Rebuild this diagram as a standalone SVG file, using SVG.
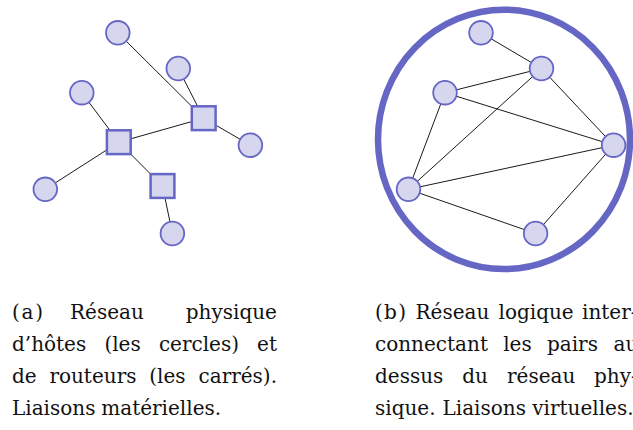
<svg xmlns="http://www.w3.org/2000/svg" width="633" height="430" viewBox="0 0 633 430">
  <style>
    .host { fill: #d6d6ef; stroke: #6666c5; stroke-width: 1.8; }
    .router { fill: #d6d6ef; stroke: #6666c5; stroke-width: 2.5; }
    .edge { stroke: #000; stroke-width: 0.9; fill: none; }
    .ring { fill: none; stroke: #6666c5; stroke-width: 6.5; }
    .cap text { font-family: "DejaVu Serif", "Liberation Serif", serif; font-size: 20px; fill: #111; }
  </style>
  <rect width="633" height="430" fill="#fff"/>

  <!-- (a) physical network -->
  <g id="connectors-a">
    <line class="edge" x1="117.8" y1="32.8" x2="203.7" y2="118.2"/>
    <line class="edge" x1="178.3" y1="68.5" x2="203.7" y2="118.2"/>
    <line class="edge" x1="203.7" y1="118.2" x2="250.4" y2="145.2"/>
    <line class="edge" x1="81.8" y1="92.7" x2="118.8" y2="142.2"/>
    <line class="edge" x1="118.8" y1="142.2" x2="203.7" y2="118.2"/>
    <line class="edge" x1="118.8" y1="142.2" x2="45.3" y2="189.3"/>
    <line class="edge" x1="118.8" y1="142.2" x2="162.5" y2="186"/>
    <line class="edge" x1="162.5" y1="186" x2="172.4" y2="233.5"/>
  </g>
  <g id="a-h1"><circle class="host" cx="117.8" cy="32.8" r="11.8"/></g>
  <g id="a-h2"><circle class="host" cx="178.3" cy="68.5" r="11.8"/></g>
  <g id="a-h3"><circle class="host" cx="81.8" cy="92.7" r="11.8"/></g>
  <g id="a-h4"><circle class="host" cx="250.4" cy="145.2" r="11.8"/></g>
  <g id="a-h5"><circle class="host" cx="45.3" cy="189.3" r="11.8"/></g>
  <g id="a-h6"><circle class="host" cx="172.4" cy="233.5" r="11.8"/></g>
  <g id="a-r1"><rect class="router" x="191.8" y="106.3" width="23.8" height="23.8"/></g>
  <g id="a-r2"><rect class="router" x="106.9" y="130.3" width="23.8" height="23.8"/></g>
  <g id="a-r3"><rect class="router" x="150.6" y="174.1" width="23.8" height="23.8"/></g>

  <!-- (b) logical overlay -->
  <g id="overlay-ring"><ellipse class="ring" cx="504" cy="139.4" rx="126" ry="129.7"/></g>
  <g id="connectors-b">
    <line class="edge" x1="481" y1="32.8" x2="541.5" y2="68.5"/>
    <line class="edge" x1="541.5" y1="68.5" x2="445" y2="92.7"/>
    <line class="edge" x1="541.5" y1="68.5" x2="408.5" y2="189.3"/>
    <line class="edge" x1="541.5" y1="68.5" x2="613.6" y2="145.2"/>
    <line class="edge" x1="445" y1="92.7" x2="613.6" y2="145.2"/>
    <line class="edge" x1="445" y1="92.7" x2="408.5" y2="189.3"/>
    <line class="edge" x1="408.5" y1="189.3" x2="613.6" y2="145.2"/>
    <line class="edge" x1="408.5" y1="189.3" x2="535.6" y2="233.5"/>
    <line class="edge" x1="535.6" y1="233.5" x2="613.6" y2="145.2"/>
  </g>
  <g id="b-p1"><circle class="host" cx="481" cy="32.8" r="11.8"/></g>
  <g id="b-p2"><circle class="host" cx="541.5" cy="68.5" r="11.8"/></g>
  <g id="b-p3"><circle class="host" cx="445" cy="92.7" r="11.8"/></g>
  <g id="b-p4"><circle class="host" cx="613.6" cy="145.2" r="11.8"/></g>
  <g id="b-p5"><circle class="host" cx="408.5" cy="189.3" r="11.8"/></g>
  <g id="b-p6"><circle class="host" cx="535.6" cy="233.5" r="11.8"/></g>

  <!-- captions -->
  <g id="caption-a" class="cap">
    <text x="12" y="318.5" textLength="31" lengthAdjust="spacing">(a)</text>
    <text x="70" y="318.5">Réseau</text>
    <text x="185.8" y="318.5">physique</text>

    <text x="12" y="350.5">d’hôtes</text>
    <text x="104.4" y="350.5">(les</text>
    <text x="158.9" y="350.5">cercles)</text>
    <text x="257.1" y="350.5">et</text>

    <text x="12" y="382.5">de</text>
    <text x="49.4" y="382.5">routeurs</text>
    <text x="149.3" y="382.5">(les</text>
    <text x="198.5" y="382.5">carrés).</text>

    <text x="12" y="414.5">Liaisons</text>
    <text x="101.3" y="414.5">matérielles.</text>
  </g>
  <g id="caption-b" class="cap">
    <text x="375" y="318.5" textLength="31" lengthAdjust="spacing">(b)</text>
    <text x="415.5" y="318.5">Réseau</text>
    <text x="498.5" y="318.5">logique</text>
    <text x="582" y="318.5">inter-</text>

    <text x="375" y="350.5">connectant</text>
    <text x="503.2" y="350.5">les</text>
    <text x="547" y="350.5">pairs</text>
    <text x="613.5" y="350.5">au</text>

    <text x="375" y="382.5">dessus</text>
    <text x="462.3" y="382.5">du</text>
    <text x="507" y="382.5">réseau</text>
    <text x="594" y="382.5">phy-</text>

    <text x="375" y="414.5">sique.</text>
    <text x="442.5" y="414.5">Liaisons</text>
    <text x="532.3" y="414.5">virtuelles.</text>
  </g>
</svg>
